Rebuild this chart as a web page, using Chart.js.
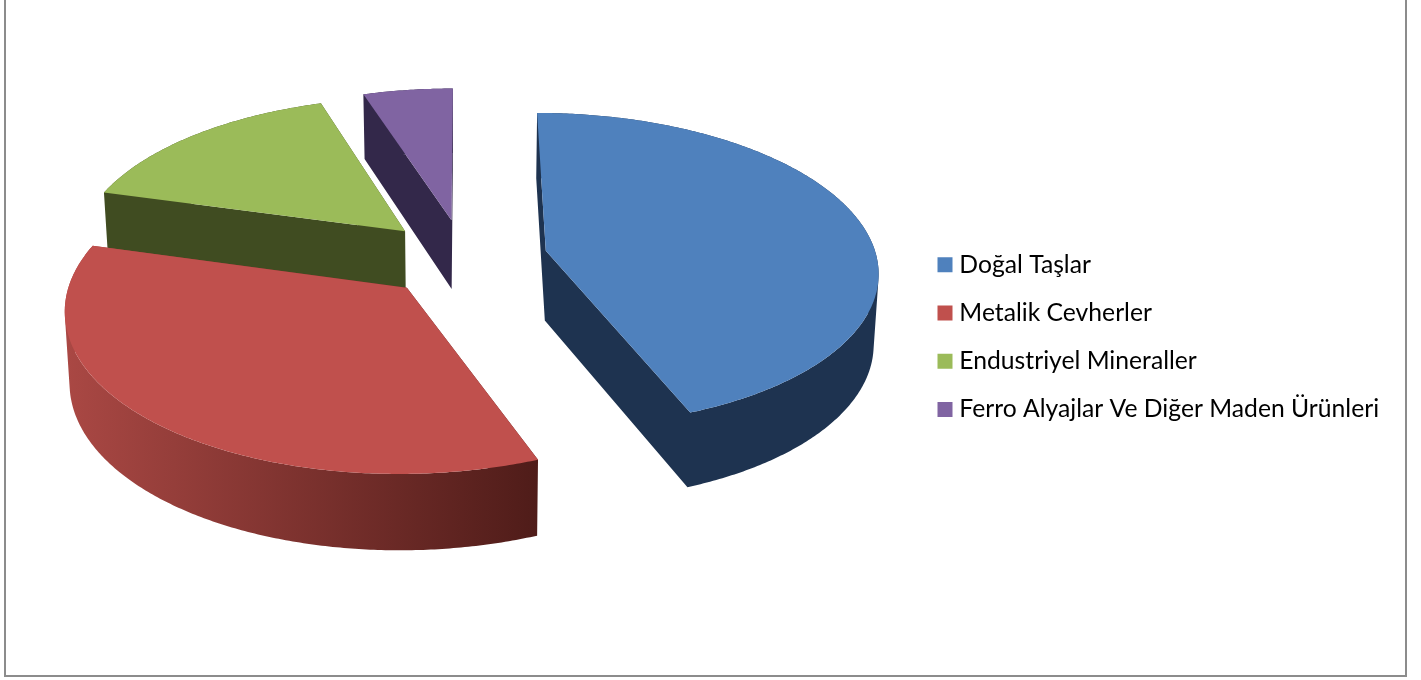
<!DOCTYPE html>
<html>
<head>
<meta charset="utf-8">
<style>
  html, body { margin: 0; padding: 0; background: #fff; overflow: hidden; }
  #wrap { position: relative; width: 1421px; height: 680px; }
  #frame { position: absolute; left: 4px; top: -10px; width: 1399px; height: 683px; border: 2px solid #8c8c8c; }
  canvas { position: absolute; left: 0; top: 0; }
</style>
</head>
<body>
<div id="wrap">
  <div id="frame"></div>
  <canvas id="chart" width="1421" height="680"></canvas>
</div>
<script src="https://cdn.jsdelivr.net/npm/chart.js@4/dist/chart.umd.min.js"></script>
<script>
const categories = ['Doğal Taşlar', 'Metalik Cevherler', 'Endustriyel Mineraller', 'Ferro Alyajlar Ve Diğer Maden Ürünleri'];
const shares = [44.1, 35.2, 15.7, 5.0];
const topColors = ['#4f81bd', '#c0504d', '#9bbb59', '#8064a2'];
// side wall colours, left end and right end of the wall
const wallFrom = ['#1e3350', '#aa4844', '#404c21', '#33284a'];
const wallTo = ['#1e3350', '#4f1c19', '#404c21', '#33284a'];

/* ── 3D look: screen size of the unit pie, perspective, thickness ── */
const VIEW = { across: 331, along: 156, persp: 0.12, depth: 70, depthPersp: 0.07, shrink: 0.988 };
const LEGEND_POS = { x: 919.5, y: 229 };

function projector(arc) {
  const R = arc.outerRadius;
  return (px, py, low) => {
    const u = px / R, v = py / R;
    const w = 1 - VIEW.persp * v;
    const k = low ? VIEW.shrink : 1;
    return {
      x: arc.x + VIEW.across * u / w * k,
      y: arc.y + VIEW.along * v / w + (low ? VIEW.depth / (1 - VIEW.depthPersp * v) : 0)
    };
  };
}

// adds a closed polygon, always in the same winding so a single fill makes a clean union
function addPoly(ctx, pts) {
  let area = 0;
  pts.forEach((p, i) => {
    const q = pts[(i + 1) % pts.length];
    area += p.x * q.y - q.x * p.y;
  });
  const list = area < 0 ? pts.slice().reverse() : pts;
  list.forEach((p, i) => { if (i === 0) ctx.moveTo(p.x, p.y); else ctx.lineTo(p.x, p.y); });
  ctx.closePath();
}

function drawSlice(ctx, arc, i) {
  const project = projector(arc);
  const a0 = arc.startAngle, a1 = arc.endAngle, mid = (a0 + a1) / 2;
  const R = arc.outerRadius, off = arc.options.offset;
  const tx = Math.cos(mid) * off, ty = Math.sin(mid) * off;
  const steps = Math.ceil((a1 - a0) / 0.01);
  const rim = [], rimLow = [];
  for (let s = 0; s <= steps; s++) {
    const a = a0 + (a1 - a0) * s / steps;
    const px = tx + Math.cos(a) * R, py = ty + Math.sin(a) * R;
    rim.push(project(px, py, false));
    rimLow.push(project(px, py, true));
  }
  const tip = project(tx, ty, false), tipLow = project(tx, ty, true);

  const xs = rim.map(p => p.x);
  const g = ctx.createLinearGradient(Math.min(...xs), 0, Math.max(...xs), 0);
  g.addColorStop(0, wallFrom[i]);
  g.addColorStop(1, wallTo[i]);

  // all walls in one path: the two straight ones, then the curve strip by strip
  ctx.beginPath();
  addPoly(ctx, [tip, rim[0], rimLow[0], tipLow]);
  addPoly(ctx, [tip, rim[steps], rimLow[steps], tipLow]);
  for (let s = 0; s < steps; s++) {
    addPoly(ctx, [rim[s], rim[s + 1], rimLow[s + 1], rimLow[s]]);
  }
  ctx.fillStyle = g;
  ctx.fill();

  // top face
  ctx.beginPath();
  addPoly(ctx, [tip].concat(rim));
  ctx.fillStyle = topColors[i];
  ctx.fill();
}

const pie3d = {
  id: 'pie3d',
  afterLayout(chart) {
    const lg = chart.legend;
    const w = lg.width, h = lg.height;
    lg.left = LEGEND_POS.x; lg.right = lg.left + w;
    lg.top = LEGEND_POS.y; lg.bottom = lg.top + h;
  },
  beforeDatasetDraw(chart, args) {
    const arcs = args.meta.data;
    const ctx = chart.ctx;
    // back to front
    const order = arcs.map((arc, i) => {
      const mid = (arc.startAngle + arc.endAngle) / 2;
      return { arc, i, depth: Math.sin(mid) };
    }).sort((a, b) => a.depth - b.depth);
    order.forEach(o => drawSlice(ctx, o.arc, o.i));
    return false;
  }
};

new Chart(document.getElementById('chart'), {
  type: 'pie',
  data: {
    labels: categories,
    datasets: [{
      data: shares,
      backgroundColor: topColors,
      borderWidth: 0,
      offset: 56
    }]
  },
  options: {
    responsive: false,
    animation: false,
    layout: { padding: { left: 0, right: 23, top: 8, bottom: 172 } },
    plugins: {
      tooltip: { enabled: false },
      legend: {
        position: 'right',
        align: 'start',
        labels: {
          font: { family: 'Lato', size: 24.7 },
          color: '#000',
          boxWidth: 4,
          boxHeight: 4,
          padding: 23.5,
          generateLabels: chart => categories.map((text, i) => ({
            text,
            fillStyle: topColors[i],
            strokeStyle: topColors[i],
            lineWidth: 11,
            lineJoin: 'miter',
            index: i
          }))
        }
      }
    }
  },
  plugins: [pie3d]
});
</script>
</body>
</html>
